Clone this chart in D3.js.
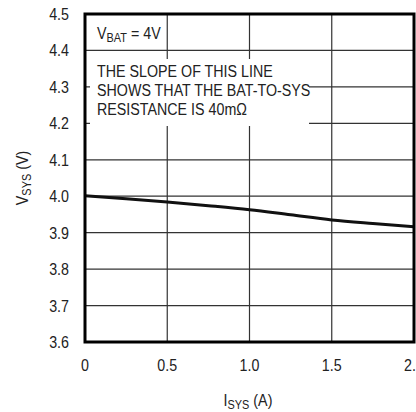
<!DOCTYPE html>
<html>
<head>
<meta charset="utf-8"/>
<script src="https://d3js.org/d3.v7.min.js"></script>
<style>
  body{margin:0;background:#fff;}
  text{font-family:"Liberation Sans","Arial",sans-serif;fill:#222;}
</style>
</head>
<body>
<svg id="chart" width="416" height="412"></svg>
<script>
// data
var isys = [0, 0.25, 0.5, 0.75, 1.0, 1.25, 1.5, 1.75, 2.0];
var vsys = [4.001, 3.993, 3.984, 3.974, 3.963, 3.949, 3.935, 3.925, 3.916];
var xTicks = [0, 0.5, 1.0, 1.5, 2.0];
var xTickLabels = ["0", "0.5", "1.0", "1.5", "2.0"];
var yTicks = [3.6, 3.7, 3.8, 3.9, 4.0, 4.1, 4.2, 4.3, 4.4, 4.5];
var noteLines = ["THE SLOPE OF THIS LINE", "SHOWS THAT THE BAT-TO-SYS", "RESISTANCE IS 40m\u03A9"];

var svg = d3.select("#chart");
var pLeft = 85, pRight = 414, pTop = 14, pBottom = 342;
var SX = 0.84; // the reference font is a narrow one

var x = d3.scaleLinear().domain([0, 2]).range([pLeft, pRight]);
var y = d3.scaleLinear().domain([3.6, 4.5]).range([pBottom, pTop]);

function narrow(sel, tx, ty) {
    return sel.attr("transform", "translate(" + tx + "," + ty + ") scale(" + SX + ",1)");
}

// grid
var grid = svg.append("g");
grid.selectAll("line.v").data(xTicks.slice(1, -1)).enter().append("line")
    .attr("x1", d => x(d)).attr("x2", d => x(d))
    .attr("y1", pTop).attr("y2", pBottom)
    .attr("stroke", "#333").attr("stroke-width", 1.2);
grid.selectAll("line.h").data(yTicks.slice(1, -1)).enter().append("line")
    .attr("x1", pLeft).attr("x2", pRight)
    .attr("y1", d => y(d)).attr("y2", d => y(d))
    .attr("stroke", "#333").attr("stroke-width", 1.2);

// white box behind the note text
svg.append("rect").attr("x", 90).attr("y", 59).attr("width", 219).attr("height", 67).attr("fill", "#fff");

// curve
var line = d3.line().x((d, i) => x(isys[i])).y(d => y(d)).curve(d3.curveMonotoneX);
svg.append("path").datum(vsys).attr("d", line)
    .attr("fill", "none").attr("stroke", "#111").attr("stroke-width", 3);

// frame
svg.append("rect").attr("x", pLeft).attr("y", pTop).attr("width", pRight - pLeft).attr("height", pBottom - pTop)
    .attr("fill", "none").attr("stroke", "#000").attr("stroke-width", 3);

// y labels
svg.selectAll("text.yl").data(yTicks).enter().append("text")
    .each(function (d) { narrow(d3.select(this), 69, y(d) + 6); })
    .attr("text-anchor", "end").attr("font-size", 17)
    .text(d => d.toFixed(1));

// x labels
svg.selectAll("text.xl").data(xTicks).enter().append("text")
    .each(function (d) { narrow(d3.select(this), x(d), 371); })
    .attr("text-anchor", "middle").attr("font-size", 17)
    .text((d, i) => xTickLabels[i]);

// axis titles
var xt = narrow(svg.append("text"), 248, 406).attr("text-anchor", "middle").attr("font-size", 17);
xt.append("tspan").text("I");
xt.append("tspan").attr("font-size", 13).attr("dy", 3).text("SYS");
xt.append("tspan").attr("dy", -3).text(" (A)");

var yt = svg.append("text").attr("transform", "translate(28,178) rotate(-90) scale(" + SX + ",1)")
    .attr("text-anchor", "middle").attr("font-size", 17);
yt.append("tspan").text("V");
yt.append("tspan").attr("font-size", 13).attr("dy", 3).text("SYS");
yt.append("tspan").attr("dy", -3).text(" (V)");

// annotations
var vb = narrow(svg.append("text"), 97, 39).attr("font-size", 17);
vb.append("tspan").text("V");
vb.append("tspan").attr("font-size", 13).attr("dy", 3).text("BAT");
vb.append("tspan").attr("dy", -3).text(" = 4V");

svg.selectAll("text.note").data(noteLines).enter().append("text")
    .each(function (d, i) { narrow(d3.select(this), 97, 77 + i * 19); })
    .attr("font-size", 17)
    .text(d => d);
</script>
</body>
</html>
